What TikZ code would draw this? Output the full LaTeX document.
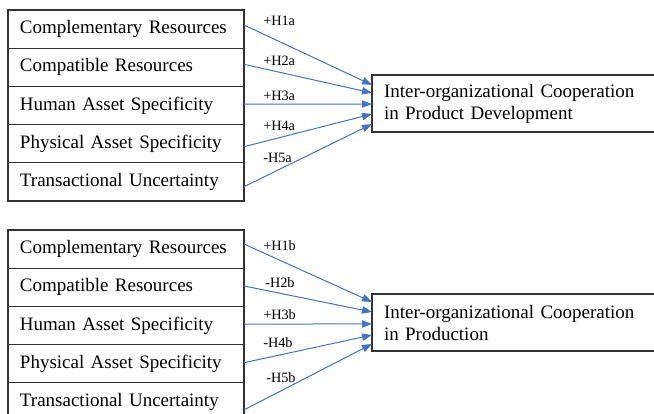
\documentclass[tikz,border=0pt]{standalone}
\usepackage{fontspec}
\setmainfont{Liberation Serif}
\usetikzlibrary{arrows.meta}
\definecolor{linkblue}{HTML}{4472C4}
\begin{document}
\begin{tikzpicture}[x=0.75pt,y=-0.75pt,
factor/.style={draw=black!80,line width=1pt,anchor=north west,outer sep=0,minimum height=28.65pt,text width=159pt,inner xsep=9pt,align=left,font=\fontsize{14.25}{16.5}\selectfont},
coop/.style={draw=black!80,line width=1pt,anchor=west,outer sep=0,minimum height=42.75pt,text width=270pt,inner xsep=9pt,align=left,font=\fontsize{14.25}{16.5}\selectfont},
hyp/.style={anchor=west,inner sep=0,font=\fontsize{10.7}{12}\selectfont},
link/.style={draw=linkblue,line width=0.75pt,-{Triangle[length=7.5pt,width=5.5pt]}}]
\useasboundingbox(0,0)rectangle(654,414);\clip(0,0)rectangle(654,414);
% product development
\foreach \t [count=\i] in {Complementary Resources,Compatible Resources,Human Asset Specificity,Physical Asset Specificity,Transactional Uncertainty}\node[factor](a\i)at(8,{10+38.2*(\i-1)}){\t};
\node[coop](ta)at(372,103.5){Inter-organizational Cooperation\\in Product Development};
\foreach \i/\s/\e in {1/3.1/13.9,2/2.25/7.9,3/1.1/-0.4,4/-2.25/-7.9,5/-3.6/-15.4}\draw[link]([yshift=\s pt]a\i.east)--([yshift=\e pt]ta.west);
\foreach \t/\y [count=\i] in {+H1a/21,+H2a/61,+H3a/96,+H4a/126,-H5a/158}\node[hyp](ha\i)at(263,\y){\t};
% production
\foreach \t [count=\i] in {Complementary Resources,Compatible Resources,Human Asset Specificity,Physical Asset Specificity,Transactional Uncertainty}\node[factor](b\i)at(8,{230+38.2*(\i-1)}){\t};
\node[coop](tb)at(372,322.5){Inter-organizational Cooperation\\in Production};
\foreach \i/\s/\e in {1/3.8/15.4,2/1/7.9,3/1.1/-1.1,4/0.75/-9.4,5/-6/-16.1}\draw[link]([yshift=\s pt]b\i.east)--([yshift=\e pt]tb.west);
\foreach \t/\x/\y [count=\i] in {+H1b/263/246,-H2b/265/283,+H3b/263/315,-H4b/263/343,-H5b/266/378}\node[hyp](hb\i)at(\x,\y){\t};
\end{tikzpicture}
\end{document}
